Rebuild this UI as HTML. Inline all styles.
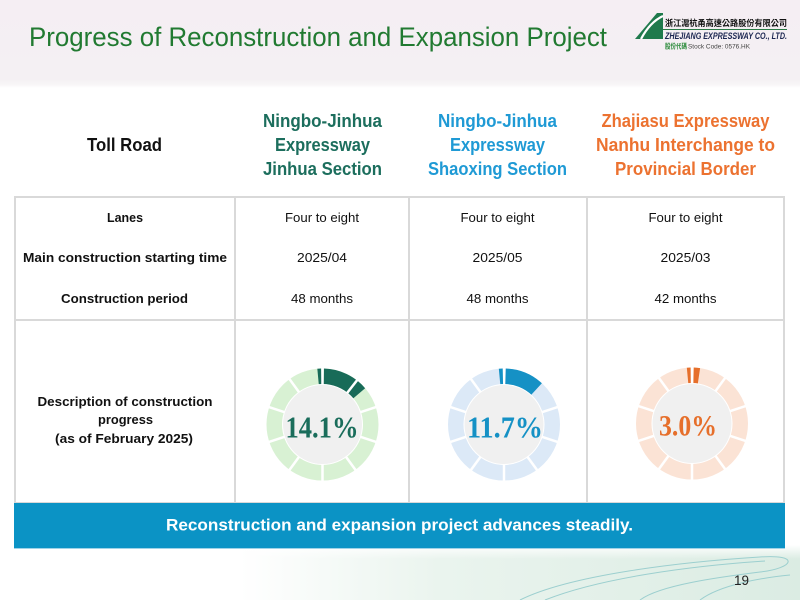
<!DOCTYPE html>
<html><head><meta charset="utf-8"><style>
html,body{margin:0;padding:0;background:#fff;}
svg{display:block;}
</style></head><body>
<svg width="800" height="600" viewBox="0 0 800 600" xmlns="http://www.w3.org/2000/svg">
<defs>
<linearGradient id="topbg" x1="0" y1="0" x2="0" y2="1">
<stop offset="0" stop-color="#f5eef3"/><stop offset="0.9" stop-color="#f4f0f3"/><stop offset="0.96" stop-color="#f8f6f7"/><stop offset="1" stop-color="#ffffff"/>
</linearGradient>
<linearGradient id="botbg" x1="0" y1="0" x2="1" y2="0">
<stop offset="0" stop-color="#ffffff"/><stop offset="0.3" stop-color="#ffffff"/><stop offset="0.55" stop-color="#eaf4ee"/><stop offset="1" stop-color="#dbece3"/>
</linearGradient>
<linearGradient id="botfade" x1="0" y1="0" x2="0" y2="1">
<stop offset="0" stop-color="#ffffff" stop-opacity="1"/><stop offset="1" stop-color="#ffffff" stop-opacity="0"/>
</linearGradient>
</defs>
<rect width="800" height="600" fill="#fff"/>
<rect x="0" y="0" width="800" height="88" fill="url(#topbg)"/>
<rect x="0" y="545" width="800" height="55" fill="url(#botbg)"/>
<rect x="0" y="545" width="800" height="14" fill="url(#botfade)"/>
<g fill="none" stroke="#9ccfcf" stroke-width="1">
<path d="M520 600 C570 575 680 562 760 557 C800 554 795 568 760 572 C720 577 660 585 640 600"/>
<path d="M545 600 C600 578 690 566 765 561"/>
<path d="M700 600 C720 585 760 578 790 575"/>
</g>

<!-- Title -->
<text x="29" y="46" font-family="Liberation Sans, sans-serif" font-size="27" fill="#217a31" textLength="578" lengthAdjust="spacingAndGlyphs">Progress of Reconstruction and Expansion Project</text>

<!-- Logo -->
<polygon points="657,13 663,13 663,39 635,39" fill="#1f7a4c"/>
<path d="M641 39 Q650 22 663 16" fill="none" stroke="#fff" stroke-width="2.2"/>
<text x="665" y="26" font-family="Liberation Sans, 'Noto Sans CJK TC', sans-serif" font-size="8.5" font-weight="bold" fill="#111" textLength="122" lengthAdjust="spacingAndGlyphs">浙江滬杭甬高速公路股份有限公司</text>
<line x1="663" y1="29.5" x2="787" y2="29.5" stroke="#2a7a45" stroke-width="1"/>
<text x="665" y="39" font-family="Liberation Sans, sans-serif" font-size="9" font-weight="bold" font-style="italic" fill="#1a2550" textLength="122" lengthAdjust="spacingAndGlyphs">ZHEJIANG EXPRESSWAY CO., LTD.</text>
<text x="665" y="48.5" font-family="Liberation Sans, 'Noto Sans CJK TC', sans-serif" font-size="7" font-weight="bold" fill="#2a8a3a" textLength="22" lengthAdjust="spacingAndGlyphs">股份代碼</text>
<text x="688" y="48.5" font-family="Liberation Sans, sans-serif" font-size="6" fill="#444" textLength="62" lengthAdjust="spacingAndGlyphs">Stock Code: 0576.HK</text>

<!-- Header -->
<g font-family="Liberation Sans, sans-serif" font-size="18" font-weight="bold" text-anchor="middle">
<text x="124.5" y="151" fill="#111" textLength="75" lengthAdjust="spacingAndGlyphs">Toll Road</text>
<g fill="#1c6e5d">
<text x="322.5" y="127" textLength="119" lengthAdjust="spacingAndGlyphs">Ningbo-Jinhua</text>
<text x="322.5" y="151" textLength="95" lengthAdjust="spacingAndGlyphs">Expressway</text>
<text x="322.5" y="175" textLength="119" lengthAdjust="spacingAndGlyphs">Jinhua Section</text>
</g>
<g fill="#1f9ad5">
<text x="497.5" y="127" textLength="119" lengthAdjust="spacingAndGlyphs">Ningbo-Jinhua</text>
<text x="497.5" y="151" textLength="95" lengthAdjust="spacingAndGlyphs">Expressway</text>
<text x="497.5" y="175" textLength="139" lengthAdjust="spacingAndGlyphs">Shaoxing Section</text>
</g>
<g fill="#ec7230">
<text x="685.5" y="127" textLength="168" lengthAdjust="spacingAndGlyphs">Zhajiasu Expressway</text>
<text x="685.5" y="151" textLength="179" lengthAdjust="spacingAndGlyphs">Nanhu Interchange to</text>
<text x="685.5" y="175" textLength="141" lengthAdjust="spacingAndGlyphs">Provincial Border</text>
</g>
</g>

<!-- Table -->
<g stroke="#d9d9d9" stroke-width="2" fill="none">
<rect x="15" y="197" width="769" height="306"/>
<line x1="235" y1="197" x2="235" y2="503"/>
<line x1="409" y1="197" x2="409" y2="503"/>
<line x1="587" y1="197" x2="587" y2="503"/>
<line x1="15" y1="320" x2="784" y2="320"/>
</g>

<g font-family="Liberation Sans, sans-serif" font-size="13" text-anchor="middle" fill="#111">
<g font-weight="bold">
<text x="125" y="222" textLength="36" lengthAdjust="spacingAndGlyphs">Lanes</text>
<text x="125" y="262" textLength="204" lengthAdjust="spacingAndGlyphs">Main construction starting time</text>
<text x="124.5" y="303" textLength="127" lengthAdjust="spacingAndGlyphs">Construction period</text>
<text x="125" y="406" textLength="175" lengthAdjust="spacingAndGlyphs">Description of construction</text>
<text x="125.5" y="424" textLength="55" lengthAdjust="spacingAndGlyphs">progress</text>
<text x="124" y="443" textLength="138" lengthAdjust="spacingAndGlyphs">(as of February 2025)</text>
</g>
<text x="322" y="222" textLength="74" lengthAdjust="spacingAndGlyphs">Four to eight</text>
<text x="322" y="262" textLength="50" lengthAdjust="spacingAndGlyphs">2025/04</text>
<text x="322" y="303" textLength="62" lengthAdjust="spacingAndGlyphs">48 months</text>
<text x="497.5" y="222" textLength="74" lengthAdjust="spacingAndGlyphs">Four to eight</text>
<text x="497.5" y="262" textLength="50" lengthAdjust="spacingAndGlyphs">2025/05</text>
<text x="497.5" y="303" textLength="62" lengthAdjust="spacingAndGlyphs">48 months</text>
<text x="685.5" y="222" textLength="74" lengthAdjust="spacingAndGlyphs">Four to eight</text>
<text x="685.5" y="262" textLength="50" lengthAdjust="spacingAndGlyphs">2025/03</text>
<text x="685.5" y="303" textLength="62" lengthAdjust="spacingAndGlyphs">42 months</text>
</g>

<!-- Donut 1 -->
<g>
<circle cx="322.5" cy="424.5" r="48" fill="none" stroke="#d8f1d3" stroke-width="16"/>
<circle cx="322.5" cy="424.5" r="48" fill="none" stroke="#186b58" stroke-width="16" stroke-dasharray="40.2 400" stroke-dashoffset="-1.26" transform="rotate(-90 322.5 424.5)"/>
<circle cx="322.5" cy="424.5" r="48" fill="none" stroke="#186b58" stroke-width="16" stroke-dasharray="3.35 400" stroke-dashoffset="-296.6" transform="rotate(-90 322.5 424.5)"/>
<g stroke="#fff" stroke-width="2.5">
<line x1="322.5" y1="385" x2="322.5" y2="367" transform="rotate(0 322.5 424.5)"/>
<line x1="322.5" y1="385" x2="322.5" y2="367" transform="rotate(38 322.5 424.5)"/>
<line x1="322.5" y1="385" x2="322.5" y2="367" transform="rotate(72 322.5 424.5)"/>
<line x1="322.5" y1="385" x2="322.5" y2="367" transform="rotate(108 322.5 424.5)"/>
<line x1="322.5" y1="385" x2="322.5" y2="367" transform="rotate(144 322.5 424.5)"/>
<line x1="322.5" y1="385" x2="322.5" y2="367" transform="rotate(180 322.5 424.5)"/>
<line x1="322.5" y1="385" x2="322.5" y2="367" transform="rotate(216 322.5 424.5)"/>
<line x1="322.5" y1="385" x2="322.5" y2="367" transform="rotate(252 322.5 424.5)"/>
<line x1="322.5" y1="385" x2="322.5" y2="367" transform="rotate(288 322.5 424.5)"/>
<line x1="322.5" y1="385" x2="322.5" y2="367" transform="rotate(324 322.5 424.5)"/>
</g>
<circle cx="322.5" cy="424.5" r="40" fill="#f0f0f0" stroke="#fff" stroke-width="1"/>
<text x="322" y="437.5" font-family="Liberation Serif, serif" font-weight="bold" font-size="31" fill="#1a6d5b" text-anchor="middle" textLength="73" lengthAdjust="spacingAndGlyphs">14.1%</text>
</g>

<!-- Donut 2 -->
<g>
<circle cx="504" cy="424.5" r="48" fill="none" stroke="#dce9f7" stroke-width="16"/>
<g stroke="#fff" stroke-width="2.5">
<line x1="504" y1="385" x2="504" y2="367" transform="rotate(0 504 424.5)"/>
<line x1="504" y1="385" x2="504" y2="367" transform="rotate(72 504 424.5)"/>
<line x1="504" y1="385" x2="504" y2="367" transform="rotate(108 504 424.5)"/>
<line x1="504" y1="385" x2="504" y2="367" transform="rotate(144 504 424.5)"/>
<line x1="504" y1="385" x2="504" y2="367" transform="rotate(180 504 424.5)"/>
<line x1="504" y1="385" x2="504" y2="367" transform="rotate(216 504 424.5)"/>
<line x1="504" y1="385" x2="504" y2="367" transform="rotate(252 504 424.5)"/>
<line x1="504" y1="385" x2="504" y2="367" transform="rotate(288 504 424.5)"/>
<line x1="504" y1="385" x2="504" y2="367" transform="rotate(324 504 424.5)"/>
</g>
<circle cx="504" cy="424.5" r="48" fill="none" stroke="#1591c5" stroke-width="16" stroke-dasharray="34 400" stroke-dashoffset="-1.6" transform="rotate(-90 504 424.5)"/>
<circle cx="504" cy="424.5" r="48" fill="none" stroke="#1591c5" stroke-width="16" stroke-dasharray="3.35 400" stroke-dashoffset="-296.6" transform="rotate(-90 504 424.5)"/>
<circle cx="504" cy="424.5" r="40" fill="#f0f0f0" stroke="#fff" stroke-width="1"/>
<text x="505" y="437.5" font-family="Liberation Serif, serif" font-weight="bold" font-size="31" fill="#1591c5" text-anchor="middle" textLength="76" lengthAdjust="spacingAndGlyphs">11.7%</text>
</g>

<!-- Donut 3 -->
<g>
<circle cx="692" cy="423.5" r="48" fill="none" stroke="#fbe3d5" stroke-width="16"/>
<circle cx="692" cy="423.5" r="48" fill="none" stroke="#e66f2b" stroke-width="16" stroke-dasharray="5.4 400" stroke-dashoffset="-1.6" transform="rotate(-90 692 423.5)"/>
<circle cx="692" cy="423.5" r="48" fill="none" stroke="#e66f2b" stroke-width="16" stroke-dasharray="3.35 400" stroke-dashoffset="-296.6" transform="rotate(-90 692 423.5)"/>
<g stroke="#fff" stroke-width="2.5">
<line x1="692" y1="384" x2="692" y2="366" transform="rotate(0 692 423.5)"/>
<line x1="692" y1="384" x2="692" y2="366" transform="rotate(36 692 423.5)"/>
<line x1="692" y1="384" x2="692" y2="366" transform="rotate(72 692 423.5)"/>
<line x1="692" y1="384" x2="692" y2="366" transform="rotate(108 692 423.5)"/>
<line x1="692" y1="384" x2="692" y2="366" transform="rotate(144 692 423.5)"/>
<line x1="692" y1="384" x2="692" y2="366" transform="rotate(180 692 423.5)"/>
<line x1="692" y1="384" x2="692" y2="366" transform="rotate(216 692 423.5)"/>
<line x1="692" y1="384" x2="692" y2="366" transform="rotate(252 692 423.5)"/>
<line x1="692" y1="384" x2="692" y2="366" transform="rotate(288 692 423.5)"/>
<line x1="692" y1="384" x2="692" y2="366" transform="rotate(324 692 423.5)"/>
</g>
<circle cx="692" cy="423.5" r="40" fill="#f0f0f0" stroke="#fff" stroke-width="1"/>
<text x="688" y="435.5" font-family="Liberation Serif, serif" font-weight="bold" font-size="30" fill="#e66f2b" text-anchor="middle" textLength="58" lengthAdjust="spacingAndGlyphs">3.0%</text>
</g>

<!-- Banner -->
<rect x="14" y="503" width="771" height="45" fill="#0b93c5"/>
<line x1="14" y1="548.5" x2="785" y2="548.5" stroke="#9fd3e8" stroke-width="1"/>
<text x="399.5" y="530.5" font-family="Liberation Sans, sans-serif" font-size="17" font-weight="bold" fill="#ffffff" text-anchor="middle" textLength="467" lengthAdjust="spacingAndGlyphs">Reconstruction and expansion project advances steadily.</text>

<!-- Page number -->
<text x="734" y="585" font-family="Liberation Sans, sans-serif" font-size="13.5" fill="#222">19</text>
</svg>
</body></html>
